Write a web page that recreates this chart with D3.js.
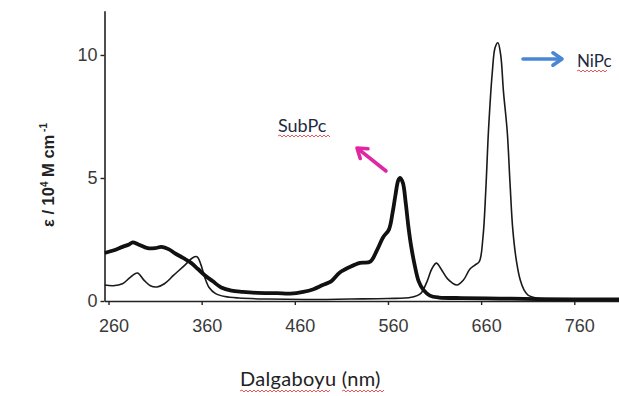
<!DOCTYPE html>
<html><head><meta charset="utf-8">
<script src="https://cdn.jsdelivr.net/npm/d3@7"></script>
<style>body{margin:0;background:#fff}svg{display:block}</style>
</head><body>
<svg id="c" width="619" height="396"></svg>
<script>
// Wavelength (nm) and molar absorptivity (10^4 M^-1 cm^-1)
const nipcWl  = [256,265,275,283,291,298,305,312,320,330,342,350,355,359,363,368,375,385,400,430,470,520,560,585,595,602,607,612,617,624,634,641,648,653,658,662,665,668,672,675,678,681,684,688,691,694,698,702,706,710,720,760,808];
const nipcVal = [0.65,0.62,0.7,0.95,1.14,0.85,0.62,0.57,0.7,1.05,1.46,1.75,1.8,1.5,1.0,0.55,0.3,0.18,0.12,0.08,0.06,0.08,0.1,0.15,0.3,0.8,1.3,1.54,1.3,0.9,0.65,0.85,1.3,1.45,1.6,2.6,4.5,7.0,9.3,10.3,10.5,10.0,8.5,6.9,4.8,2.9,1.6,0.85,0.45,0.25,0.12,0.08,0.07];
const subpcWl  = [256,265,275,282,286,292,302,310,317,325,331,340,349,356,363,372,381,392,404,420,441,455,469,480,490,499,508,519,530,541,548,555,561,565,568,571,573,576,579,582,585,589,593,598,605,615,640,680,720,808];
const subpcVal = [1.95,2.05,2.2,2.3,2.38,2.3,2.15,2.15,2.2,2.1,1.95,1.75,1.54,1.3,1.06,0.8,0.55,0.42,0.37,0.33,0.32,0.3,0.37,0.48,0.65,0.8,1.15,1.38,1.55,1.6,2.05,2.6,2.9,3.6,4.3,4.9,5.0,4.8,4.0,3.0,2.2,1.4,0.8,0.45,0.22,0.14,0.12,0.1,0.08,0.06];
const xTicks = [260,360,460,560,660,760];
const yTicks = [0,5,10];
const seriesNames = ["SubPc","NiPc"];
const xTitle = "Dalgaboyu (nm)";

const svg = d3.select("#c");
const x = d3.scaleLinear().domain([255.7, 808]).range([104.5, 619]);
const y = d3.scaleLinear().domain([0, 11.8]).range([301, 10.7]);

const line = d3.line().x(d=>x(d[0])).y(d=>y(d[1])).curve(d3.curveCatmullRom.alpha(0.5));

// axes
const gx = svg.append("g").attr("transform","translate(0,301)")
  .call(d3.axisBottom(x).tickValues(xTicks).tickSize(4).tickSizeOuter(0).tickFormat(d3.format("d")));
gx.select(".domain").attr("stroke","#222").attr("stroke-width",1.6);
gx.selectAll(".tick line").attr("stroke","#222").attr("stroke-width",1.4);
gx.selectAll(".tick text").attr("font-family","Liberation Sans, Arial, sans-serif").attr("font-size",18)
  .attr("fill","#3a3a3a").attr("dy","1.35em").attr("dx",5);

const gy = svg.append("g").attr("transform","translate(104.5,0)")
  .call(d3.axisLeft(y).tickValues(yTicks).tickSize(4).tickSizeOuter(0));
gy.select(".domain").attr("stroke","#222").attr("stroke-width",1.6);
gy.selectAll(".tick line").attr("stroke","#222").attr("stroke-width",1.4);
gy.selectAll(".tick text").attr("font-family","Liberation Sans, Arial, sans-serif").attr("font-size",18)
  .attr("fill","#3a3a3a").attr("x",-7);

// curves
svg.append("path").datum(d3.zip(nipcWl,nipcVal)).attr("d",line)
  .attr("fill","none").attr("stroke","#1a1a1a").attr("stroke-width",1.6);
svg.append("path").datum(d3.zip(subpcWl,subpcVal)).attr("d",line)
  .attr("fill","none").attr("stroke","#111").attr("stroke-width",3.8).attr("stroke-linejoin","round");

// y title
const yt = svg.append("text").attr("transform","translate(54,175) rotate(-90)")
  .attr("text-anchor","middle").attr("font-family","Liberation Sans, Arial, sans-serif")
  .attr("font-size",16.5).attr("font-weight","bold").attr("fill","#222");
yt.append("tspan").text("ε / 10");
yt.append("tspan").text("4").attr("font-size",10).attr("dy",-6);
yt.append("tspan").text(" M cm").attr("dy",6);
yt.append("tspan").text(" -1").attr("font-size",10).attr("dy",-7);

// wavy underline helper
function squiggle(x0,x1,yy){
  let d = `M${x0},${yy}`; let up = true;
  for(let xx=x0+2; xx<=x1; xx+=2){ d += `L${xx},${yy + (up?-1:1)}`; up=!up; }
  svg.append("path").attr("d",d).attr("fill","none").attr("stroke","#e03030").attr("stroke-width",0.8);
}

const fontAnn = "Lato, 'Open Sans', sans-serif";
// annotations
svg.append("text").attr("x",278).attr("y",132).text(seriesNames[0])
  .attr("font-family",fontAnn).attr("font-size",18).attr("fill","#1f2a44");
squiggle(278,330,136);
svg.append("text").attr("x",577).attr("y",67).text(seriesNames[1])
  .attr("font-family",fontAnn).attr("font-size",17).attr("fill","#1f2a44");
squiggle(577,607,71);

svg.append("text").attr("x",240).attr("y",386).text(xTitle)
  .attr("font-family",fontAnn).attr("font-size",20).attr("fill","#222").attr("letter-spacing",0.3);
squiggle(240,330,391); squiggle(342,384,391);

// arrows
function arrow(x0,y0,x1,y1,col){
  const a = Math.atan2(y1-y0,x1-x0), h=11, s=0.6;
  svg.append("line").attr("x1",x0).attr("y1",y0).attr("x2",x1-Math.cos(a)*1.5).attr("y2",y1-Math.sin(a)*1.5)
    .attr("stroke",col).attr("stroke-width",3.6).attr("stroke-linecap","round");
  svg.append("path").attr("d",`M${x1-h*Math.cos(a-s)},${y1-h*Math.sin(a-s)}L${x1},${y1}L${x1-h*Math.cos(a+s)},${y1-h*Math.sin(a+s)}`)
    .attr("fill","none").attr("stroke",col).attr("stroke-width",3.6).attr("stroke-linecap","round").attr("stroke-linejoin","round");
}
arrow(386,171,357,148,"#e026a3");
arrow(523,59,562,59,"#4a86d4");
</script>
</body></html>
